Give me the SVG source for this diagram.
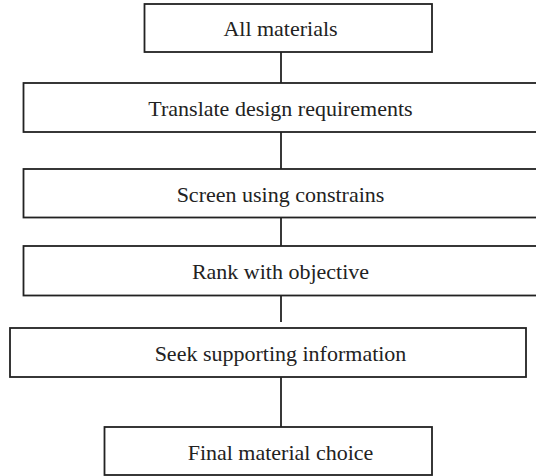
<svg xmlns="http://www.w3.org/2000/svg" width="536" height="476" viewBox="0 0 536 476">
  <style>
    .box { fill: #ffffff; stroke: #222222; stroke-width: 1.8; }
    .label { font-family: 'Liberation Serif', 'Times New Roman', Times, serif; font-size: 22px; fill: #222222; text-anchor: middle; }
    .link { stroke: #222222; stroke-width: 1.8; fill: none; }
  </style>
  <rect width="536" height="476" fill="#ffffff"/>

  <!-- connectors along the central spine -->
  <g id="connectors">
    <line class="link" x1="281" y1="52" x2="281" y2="83"/>
    <line class="link" x1="281" y1="132" x2="281" y2="169"/>
    <line class="link" x1="281" y1="217.5" x2="281" y2="246"/>
    <line class="link" x1="281" y1="295.5" x2="281" y2="322"/>
    <line class="link" x1="281" y1="377" x2="281" y2="427"/>
  </g>

  <g id="all-materials">
    <rect class="box" x="144.5" y="4" width="287.5" height="48"/>
    <text class="label" x="280.5" y="36">All materials</text>
  </g>

  <g id="translate-requirements">
    <rect class="box" x="23.5" y="83" width="530" height="49"/>
    <text class="label" x="280.5" y="115.5">Translate design requirements</text>
  </g>

  <g id="screen-constraints">
    <rect class="box" x="23.5" y="169" width="530" height="48.5"/>
    <text class="label" x="280.5" y="201.5">Screen using constrains</text>
  </g>

  <g id="rank-objective">
    <rect class="box" x="23.5" y="246" width="530" height="49.5"/>
    <text class="label" x="280.5" y="278.5">Rank with objective</text>
  </g>

  <g id="seek-information">
    <rect class="box" x="10" y="328" width="516" height="49"/>
    <text class="label" x="280.5" y="360.5">Seek supporting information</text>
  </g>

  <g id="final-choice">
    <rect class="box" x="104.5" y="427" width="327.5" height="48"/>
    <text class="label" x="280.5" y="459.5">Final material choice</text>
  </g>
</svg>
